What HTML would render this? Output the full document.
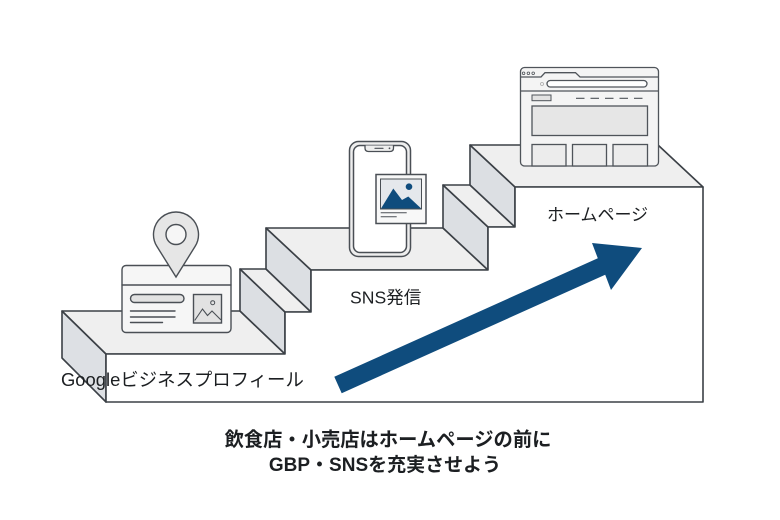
<!DOCTYPE html>
<html>
<head>
<meta charset="utf-8">
<style>
  html,body{margin:0;padding:0;background:#ffffff;}
  body{width:780px;height:520px;overflow:hidden;}
  svg{display:block;}
  text{font-family:"Liberation Sans","Noto Sans CJK JP",sans-serif;fill:#1c1f22;}
</style>
</head>
<body>
<svg width="780" height="520" viewBox="0 0 780 520" xmlns="http://www.w3.org/2000/svg">
  <rect width="780" height="520" fill="#ffffff"/>

  <g stroke="#3b4046" stroke-width="1.6" stroke-linejoin="round">
    <!-- left side face of landing 1 -->
    <polygon points="62,311 62,358 106,402 106,354" fill="#dde0e4"/>
    <!-- landing 1 top -->
    <polygon points="62,311 240,311 285,354 106,354" fill="#efefef"/>
    <!-- riser A -->
    <polygon points="240,269 240,311 285,354 285,312" fill="#dcdfe3"/>
    <!-- small step 1 top -->
    <polygon points="240,269 266,269 311,312 285,312" fill="#efefef"/>
    <!-- riser B -->
    <polygon points="266,228 266,269 311,312 311,270" fill="#dcdfe3"/>
    <!-- landing 2 top -->
    <polygon points="266,228 443,228 488,270 311,270" fill="#efefef"/>
    <!-- riser C -->
    <polygon points="443,185 443,228 488,270 488,227" fill="#dcdfe3"/>
    <!-- small step 2 top -->
    <polygon points="443,185 470,185 515,227 488,227" fill="#efefef"/>
    <!-- riser D -->
    <polygon points="470,145 470,185 515,227 515,187" fill="#dcdfe3"/>
    <!-- landing 3 top -->
    <polygon points="470,145 658,145 703,187 515,187" fill="#efefef"/>
    <!-- front face -->
    <polygon points="106,354 285,354 285,312 311,312 311,270 488,270 488,227 515,227 515,187 703,187 703,402 106,402" fill="#ffffff"/>
  </g>

  <!-- Google business card + pin -->
  <g stroke="#4a4f55" stroke-width="1.4" fill="none" stroke-linecap="round">
    <rect x="122" y="265.5" width="109" height="67" rx="4" fill="#f6f6f6"/>
    <line x1="122" y1="285" x2="231" y2="285"/>
    <rect x="130.5" y="294.5" width="53.5" height="8" rx="4" fill="#e2e2e2"/>
    <line x1="130.5" y1="311" x2="175" y2="311"/>
    <line x1="130.5" y1="317" x2="175" y2="317"/>
    <line x1="130.5" y1="322.5" x2="162.5" y2="322.5"/>
    <rect x="193.5" y="294.5" width="28" height="28.5" fill="#e2e2e2"/>
    <polyline points="195,320 202.5,309 207.5,315.5 212,311 220.5,319.5" stroke-width="1.1"/>
    <circle cx="212.7" cy="302.7" r="2" stroke-width="1"/>
    <path d="M176,277 L156.9,246.4 A22.5,22.5 0 1 1 195.1,246.4 Z" fill="#e6e6e6"/>
    <circle cx="176" cy="234.5" r="10" fill="#f6f6f6"/>
  </g>

  <!-- Phone -->
  <g stroke="#4a4f55" stroke-width="1.5" fill="none">
    <rect x="349.5" y="141.5" width="61" height="115" rx="9" fill="#eeeeee"/>
    <rect x="353.5" y="145.5" width="53" height="107" rx="6.5" fill="#ffffff"/>
    <path d="M365,145.5 v2.5 q0,3.5 3.5,3.5 h21.5 q3.5,0 3.5,-3.5 v-2.5" fill="#eeeeee" stroke-width="1.3"/>
    <line x1="375" y1="148.3" x2="383" y2="148.3" stroke-width="1.2" stroke-linecap="round"/>
    <circle cx="389.5" cy="148.3" r="0.9" fill="#4a4f55" stroke="none"/>
    <rect x="376" y="174.5" width="50" height="49" fill="#f8f8f8"/>
    <rect x="380.5" y="179" width="41" height="30" fill="#e5e8ec" stroke-width="1"/>
    <polygon points="381,208.5 393.3,188.5 402,200 408.3,196.5 421.2,208.5" fill="#0f4c7d" stroke="none"/>
    <circle cx="409" cy="186.7" r="3.3" fill="#0f4c7d" stroke="none"/>
    <line x1="380.7" y1="212.8" x2="406.7" y2="212.8" stroke-width="1"/>
    <line x1="380.7" y1="216.8" x2="396.7" y2="216.8" stroke-width="1"/>
  </g>

  <!-- Browser -->
  <g stroke="#4f545a" stroke-width="1.3" fill="none">
    <rect x="520.5" y="67.5" width="138" height="98.5" rx="4" fill="#f4f4f4"/>
    <path d="M520.5,77 H541 L545,72.7 H575.5 L580,77 H658.5"/>
    <circle cx="523.6" cy="73.3" r="1.3" stroke-width="0.8"/>
    <circle cx="528.4" cy="73.3" r="1.3" stroke-width="0.8"/>
    <circle cx="533.2" cy="73.3" r="1.3" stroke-width="0.8"/>
    <circle cx="542" cy="84" r="1.5" stroke-width="0.8" stroke="#aaaaaa"/>
    <rect x="547" y="80.5" width="100" height="6.5" rx="3.25" fill="#ffffff"/>
    <line x1="520.5" y1="91" x2="658.5" y2="91"/>
    <rect x="532" y="95" width="19" height="5.7" fill="#e2e2e2" stroke-width="1"/>
    <line x1="576" y1="98.3" x2="647" y2="98.3" stroke-dasharray="8.5 6" stroke-width="1.2"/>
    <rect x="532" y="106" width="115.5" height="29.5" fill="#e6e6e6"/>
    <rect x="532" y="144.5" width="34" height="21.5" fill="#ececec"/>
    <rect x="572.5" y="144.5" width="34" height="21.5" fill="#ececec"/>
    <rect x="613" y="144.5" width="34.5" height="21.5" fill="#ececec"/>
  </g>

  <!-- Arrow -->
  <polygon points="334.3,376.8 597.8,258.3 592,243 642,248 611,290 605.2,274.7 341.7,393.2" fill="#0f4c7d"/>

  <!-- Labels -->
  <text x="61" y="386" font-size="18.4">Googleビジネスプロフィール</text>
  <text x="350" y="303.5" font-size="17.6">SNS発信</text>
  <text x="547" y="220.5" font-size="17">ホームページ</text>

  <text x="388" y="446" font-size="19.3" font-weight="bold" text-anchor="middle">飲食店・小売店はホームページの前に</text>
  <text x="385" y="471" font-size="19" font-weight="bold" text-anchor="middle">GBP・SNSを充実させよう</text>
</svg>
</body>
</html>
